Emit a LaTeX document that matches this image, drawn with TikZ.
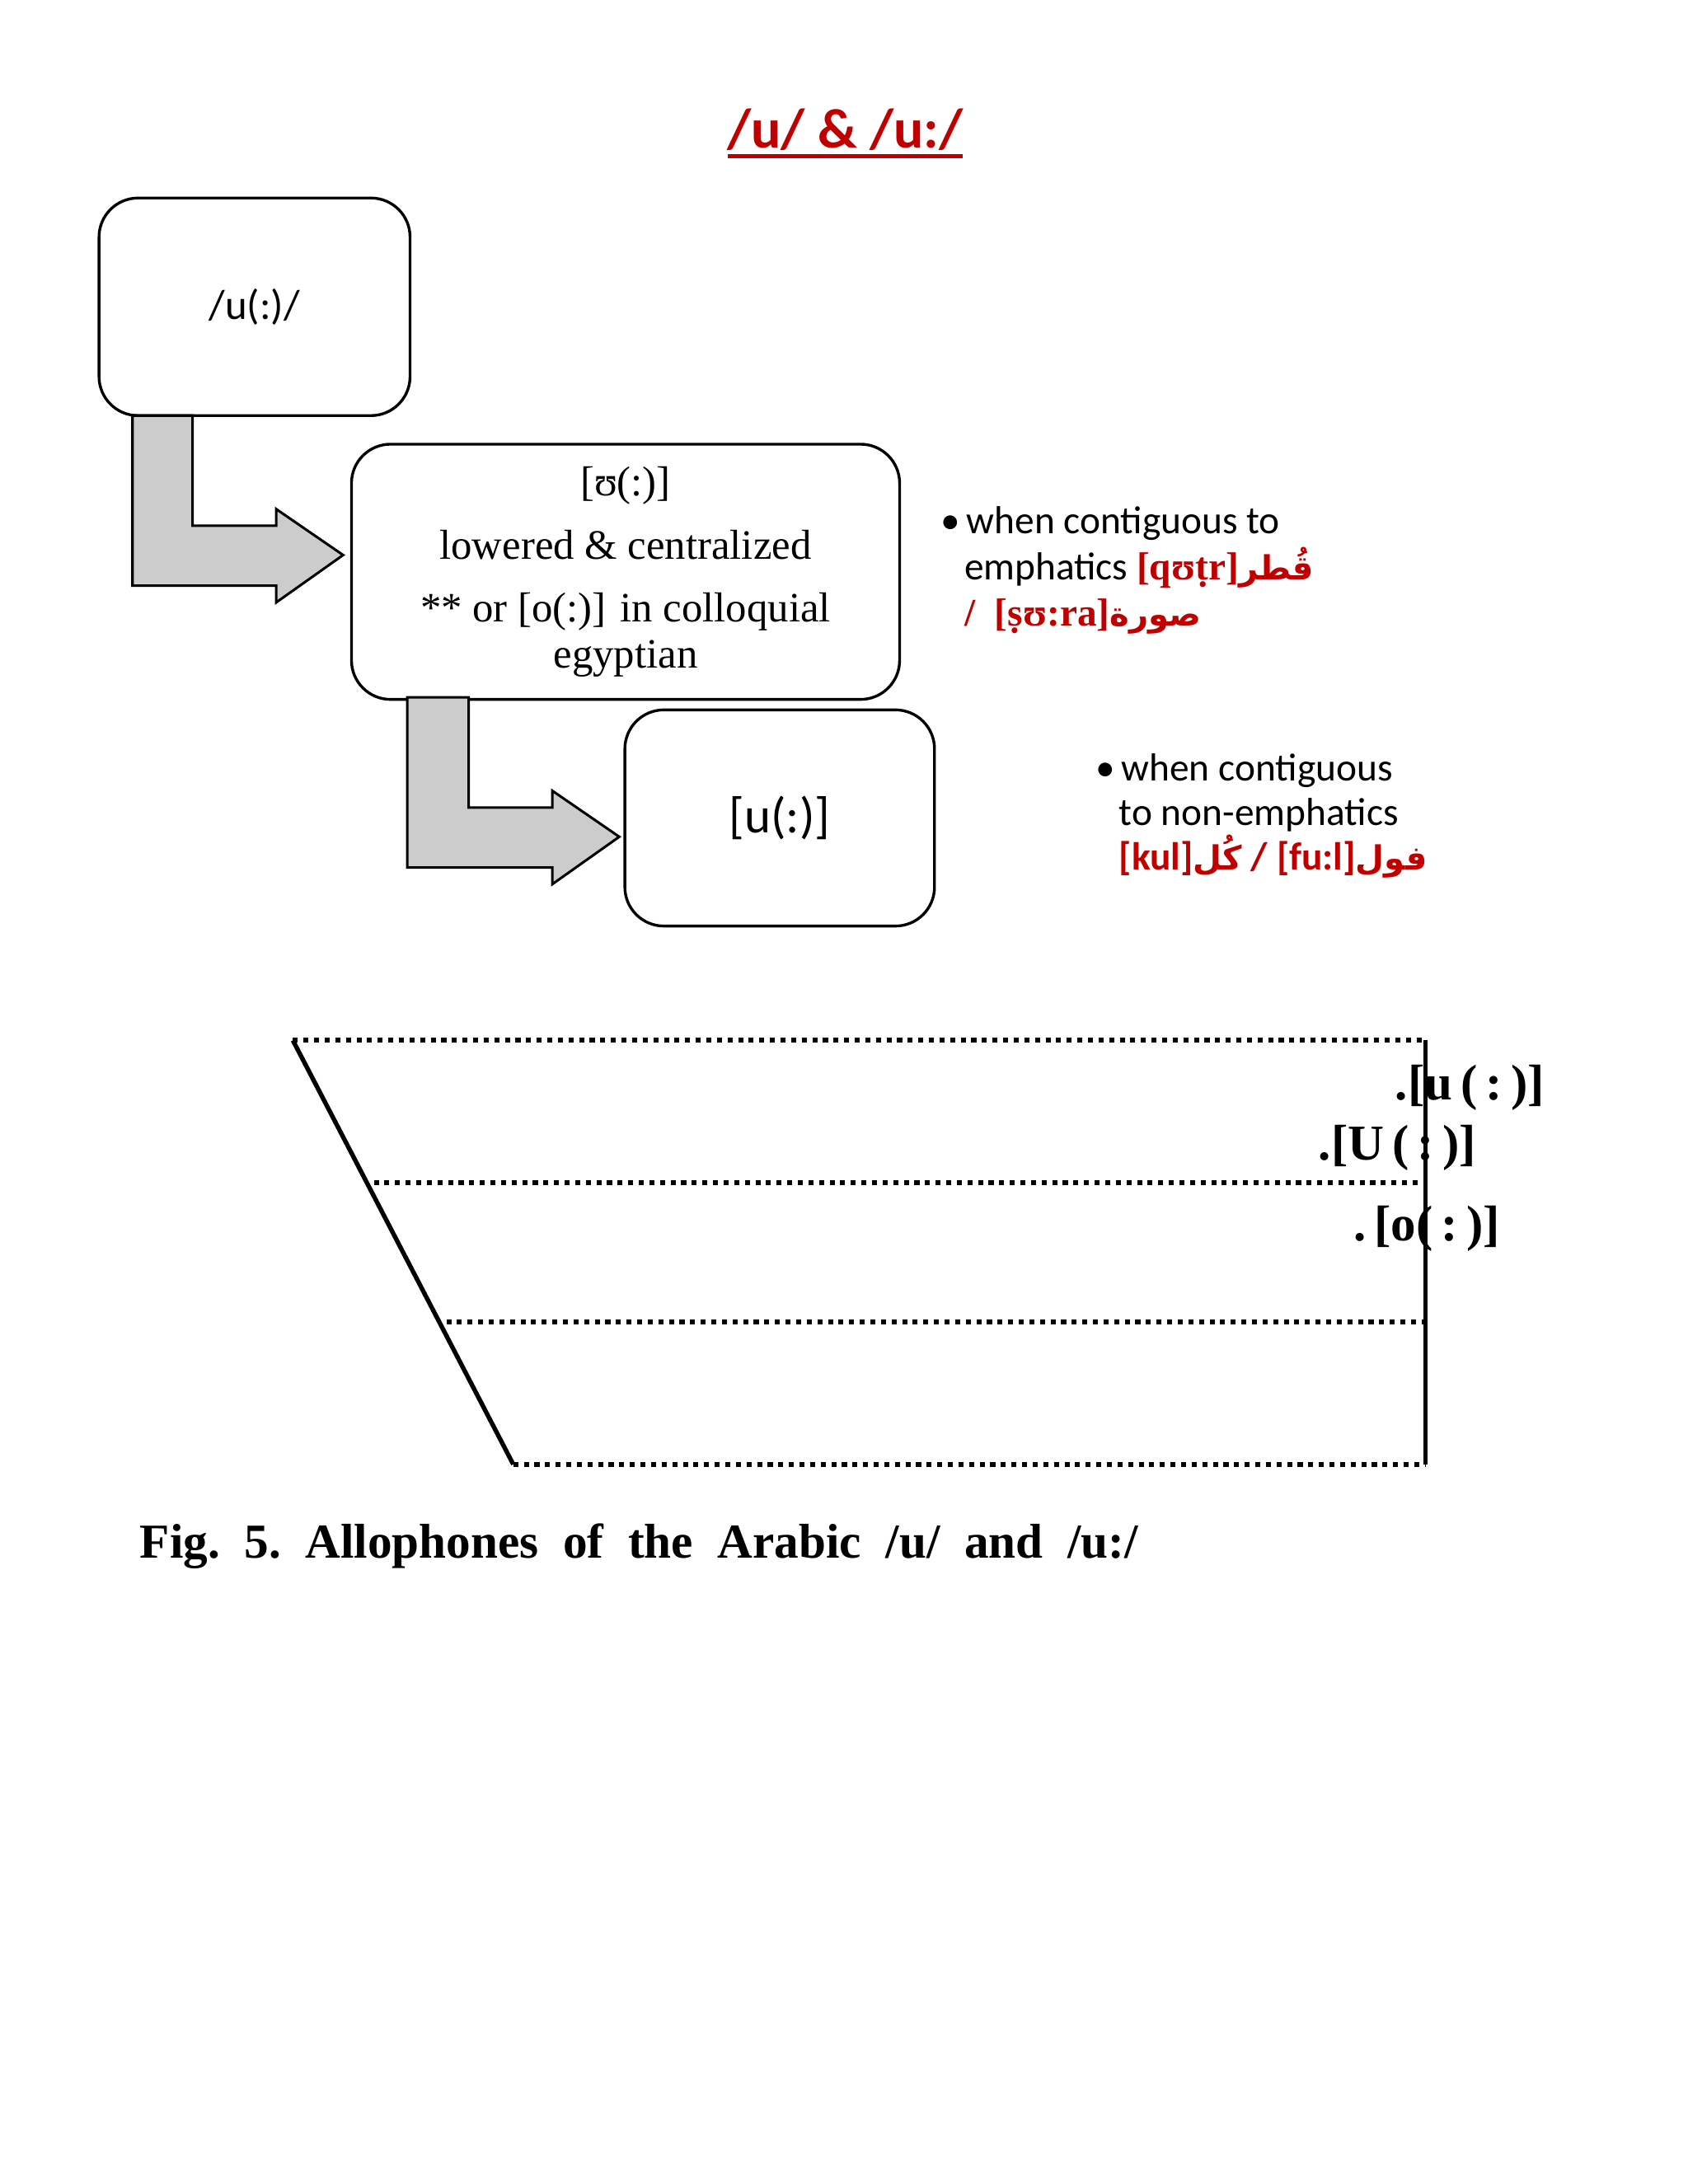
\documentclass[tikz,border=0pt]{standalone}
\usepackage{fontspec}
\setmainfont{Carlito}
\newfontfamily\serifa{Liberation Serif}
\newfontfamily\arabicfont[Script=Arabic,Scale=0.85]{DejaVu Sans}
\TeXXeTstate=1
\definecolor{myred}{RGB}{192,0,0}
\definecolor{arrowgray}{RGB}{204,204,204}
\tikzset{
 rbox/.style={draw, line width=1pt, rounded corners=14pt, inner sep=0pt},
 barrow/.style={draw, line width=0.9pt, fill=arrowgray},
 dotline/.style={line width=1.8pt, dotted},
 chartline/.style={line width=1.6pt}
}
\begin{document}
\begin{tikzpicture}[x=0.5pt,y=-0.5pt]
\useasboundingbox (0,0) rectangle (1210,1566);
% title
\node[text=myred, font=\fontsize{20}{24}\selectfont\bfseries] (title) at (606,93) {/u/ \& /u:/};
\draw[myred, line width=1.2pt] (522,112) -- (690,112);
% boxes
\node[rbox, minimum width=111.5pt, minimum height=78pt, font=\fontsize{15}{18}\selectfont] (b1) at (182.5,220) {/u(:)/};
\node[rbox, minimum width=196.5pt, minimum height=91.5pt, align=center, font=\serifa\fontsize{15}{16.5}\selectfont] (b2) at (448.5,410) {[ʊ(:)]\\[6pt] lowered \& centralized\\[6pt] ** or [o(:)] in colloquial\\egyptian};
\node[rbox, minimum width=111pt, minimum height=77.5pt, font=\fontsize{18}{22}\selectfont] (b3) at (559,586.5) {[u(:)]};
% arrows
\draw[barrow] (95,298) -- (138,298) -- (138,377) -- (198,377) -- (198,365) -- (246,398) -- (198,432) -- (198,420) -- (95,420) -- cycle;
\draw[barrow] (292,500) -- (336,500) -- (336,579) -- (396,579) -- (396,567) -- (444,600) -- (396,634) -- (396,622) -- (292,622) -- cycle;
% bullets
\node[anchor=north west, align=left, font=\fontsize{14}{16.5}\selectfont, inner sep=0pt] (t1) at (674,363) {\textbullet\,when contiguous to\\
\hspace*{8.5pt}emphatics {\serifa\bfseries\color{myred}[qʊṭr]}{\arabicfont\bfseries\color{myred}\beginR قُطر\endR}\\
\hspace*{8.5pt}{\serifa\bfseries\color{myred}/\ \ [ṣʊ:ra]}{\arabicfont\bfseries\color{myred}\beginR صورة\endR}};
\node[anchor=north west, align=left, font=\fontsize{14}{16}\selectfont, inner sep=0pt] (t2) at (785,540) {\textbullet\,when contiguous\\
\hspace*{8.5pt}to non-emphatics\\
\hspace*{8.5pt}{\bfseries\color{myred}[kul]}{\arabicfont\bfseries\color{myred}\beginR كُل\endR}{\bfseries\color{myred}\ / [fu:l]}{\arabicfont\bfseries\color{myred}\beginR فول\endR}};
% chart
\coordinate (tl) at (210,746);
\coordinate (tr) at (1022,746);
\coordinate (m1l) at (268,848);
\coordinate (m1r) at (1022,848);
\coordinate (m2l) at (320,948);
\coordinate (m2r) at (1022,948);
\coordinate (bl) at (368,1050);
\coordinate (br) at (1022,1050);
\draw[dotline] (tl) -- (tr);
\draw[dotline] (m1l) -- (m1r);
\draw[dotline] (m2l) -- (m2r);
\draw[dotline] (bl) -- (br);
\draw[chartline] (tl) -- (bl);
\draw[chartline] (tr) -- (br);
\node[anchor=west, font=\serifa\fontsize{18}{20}\selectfont\bfseries, inner sep=0pt] (l1) at (1000,780) {.[u\,(\,:\,)]};
\node[anchor=west, font=\serifa\fontsize{18}{20}\selectfont\bfseries, inner sep=0pt] (l2) at (945,823) {.[U\,(\,:\,)]};
\node[anchor=west, font=\serifa\fontsize{18}{20}\selectfont\bfseries, inner sep=0pt] (l3) at (970,881) {.\,[o(\,:\,)]};
% caption
\node[anchor=west, font=\serifa\fontsize{17.5}{20}\selectfont\bfseries, inner sep=0pt] (cap) at (100,1109) {Fig.\ \ 5.\ \ Allophones\ \ of\ \ the\ \ Arabic\ \ /u/\ \ and\ \ /u:/};
\end{tikzpicture}
\end{document}
